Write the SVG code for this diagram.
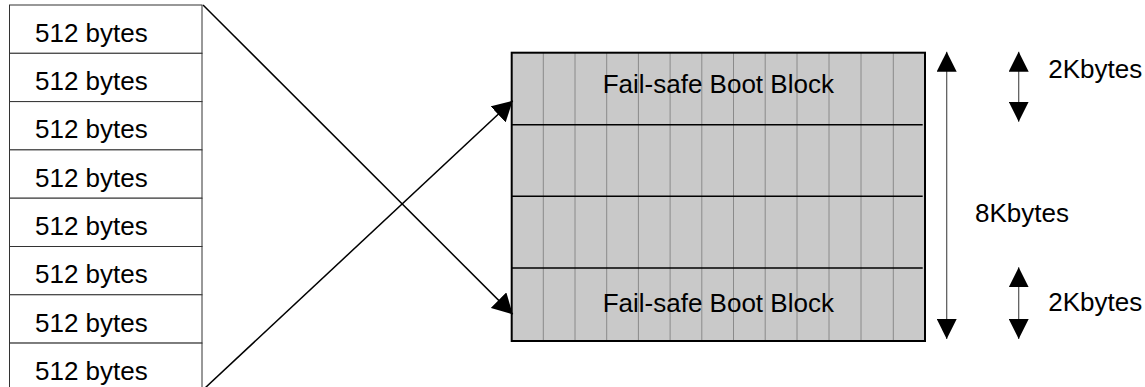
<svg xmlns="http://www.w3.org/2000/svg" width="1145" height="387" viewBox="0 0 1145 387">
<defs>
<style>
text{font-family:"Liberation Sans",Arial,sans-serif;font-size:26px;fill:#000}
.cell{fill:#fff;stroke:#333;stroke-width:1}
.grid{stroke:#8a8a8a;stroke-width:1}
.hl{stroke:#000;stroke-width:1.6}
.conn{stroke:#000;stroke-width:1.5;fill:none}
.dim{stroke:#555;stroke-width:1.2;fill:none}
</style>
<marker id="ah" markerUnits="userSpaceOnUse" markerWidth="20" markerHeight="22" refX="20" refY="11" orient="auto" viewBox="0 0 20 22">
<path d="M0,0 L20,11 L0,22 z" fill="#000"/>
</marker>
<marker id="ahs" markerUnits="userSpaceOnUse" markerWidth="20" markerHeight="20" refX="20" refY="10" orient="auto-start-reverse" viewBox="0 0 20 20">
<path d="M0,0 L20,10 L0,20 z" fill="#000"/>
</marker>
</defs>
<g id="sectors">
<rect class="cell" x="9.5" y="5" width="192.5" height="48.3"/>
<rect class="cell" x="9.5" y="53.3" width="192.5" height="48.3"/>
<rect class="cell" x="9.5" y="101.6" width="192.5" height="48.3"/>
<rect class="cell" x="9.5" y="149.9" width="192.5" height="48.3"/>
<rect class="cell" x="9.5" y="198.2" width="192.5" height="48.3"/>
<rect class="cell" x="9.5" y="246.5" width="192.5" height="48.3"/>
<rect class="cell" x="9.5" y="294.8" width="192.5" height="48.3"/>
<rect class="cell" x="9.5" y="343.1" width="192.5" height="48.3"/>
<text x="35" y="41.7">512 bytes</text>
<text x="35" y="90">512 bytes</text>
<text x="35" y="138.3">512 bytes</text>
<text x="35" y="186.6">512 bytes</text>
<text x="35" y="234.9">512 bytes</text>
<text x="35" y="283.2">512 bytes</text>
<text x="35" y="331.5">512 bytes</text>
<text x="35" y="379.8">512 bytes</text>
</g>
<g id="bootblock">
<rect x="511.7" y="52.7" width="413.3" height="288.3" fill="#c9c9c9"/>
<g class="grid">
<line x1="543.3" y1="53" x2="543.3" y2="341"/>
<line x1="575" y1="53" x2="575" y2="341"/>
<line x1="606.7" y1="53" x2="606.7" y2="341"/>
<line x1="638.4" y1="53" x2="638.4" y2="341"/>
<line x1="670.1" y1="53" x2="670.1" y2="341"/>
<line x1="701.8" y1="53" x2="701.8" y2="341"/>
<line x1="733.5" y1="53" x2="733.5" y2="341"/>
<line x1="765.2" y1="53" x2="765.2" y2="341"/>
<line x1="797" y1="53" x2="797" y2="341"/>
<line x1="829" y1="53" x2="829" y2="341"/>
<line x1="861" y1="53" x2="861" y2="341"/>
<line x1="893.3" y1="53" x2="893.3" y2="341"/>
</g>
<line class="hl" x1="511.7" y1="124.7" x2="922.7" y2="124.7"/>
<line class="hl" x1="511.7" y1="196.3" x2="922.7" y2="196.3"/>
<line class="hl" x1="511.7" y1="268" x2="922.7" y2="268"/>
<rect x="511.7" y="52.7" width="413.3" height="288.3" fill="none" stroke="#000" stroke-width="2"/>
<text x="718.3" y="93.3" text-anchor="middle">Fail-safe Boot Block</text>
<text x="718.3" y="311.5" text-anchor="middle">Fail-safe Boot Block</text>
</g>
<g id="dimensions">
<line class="dim" x1="946.7" y1="51.7" x2="946.7" y2="339" marker-start="url(#ahs)" marker-end="url(#ahs)"/>
<text x="975" y="222">8Kbytes</text>
<line class="dim" x1="1018.7" y1="51.7" x2="1018.7" y2="121.7" marker-start="url(#ahs)" marker-end="url(#ahs)"/>
<text x="1048.3" y="78.3">2Kbytes</text>
<line class="dim" x1="1018.7" y1="267.3" x2="1018.7" y2="339" marker-start="url(#ahs)" marker-end="url(#ahs)"/>
<text x="1048.3" y="310.7">2Kbytes</text>
</g>
<g id="connectors">
<line class="conn" x1="203" y1="5" x2="512.7" y2="314.3" marker-end="url(#ah)"/>
<line class="conn" x1="205" y1="388" x2="512.7" y2="100.7" marker-end="url(#ah)"/>
</g>
</svg>
